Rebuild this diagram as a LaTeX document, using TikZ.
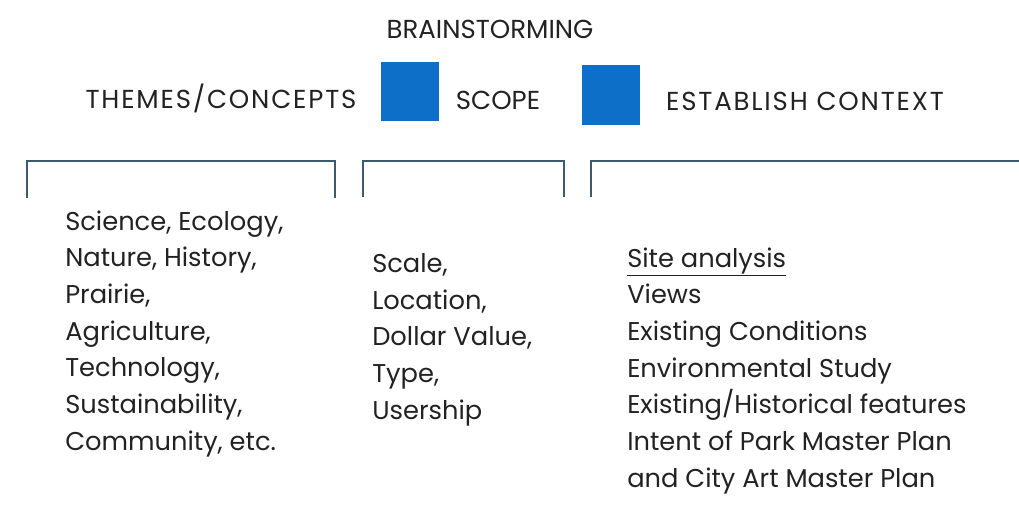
\documentclass[tikz,border=0pt]{standalone}
\usepackage{fontspec}
\setmainfont{Poppins}
\usetikzlibrary{positioning}

\definecolor{boxblue}{HTML}{0D6FC8}
\definecolor{rulegray}{HTML}{3F5A6B}
\definecolor{ink}{HTML}{222222}

\begin{document}
\begin{tikzpicture}[
        x=0.75pt, y=-0.75pt,
        every node/.style={text=ink, inner sep=0pt},
        heading/.style={font=\fontsize{19.5}{24}\selectfont, anchor=base},
        wideheading/.style={heading, font=\fontsize{19.5}{24}\selectfont\addfontfeature{LetterSpace=7}},
        itemlist/.style={font=\fontsize{19.3}{27.5}\selectfont, align=left, anchor=base west},
        bluebox/.style={fill=boxblue, minimum width=43.5pt, minimum height=44.5pt},
        bracket/.style={draw=rulegray, line width=1.5pt}
    ]
    \useasboundingbox (0,0) rectangle (1019,529);

    % Headings
    \node[heading] (brain) at (490,38) {BRAINSTORMING};
    \node[wideheading] (themes) at (221,108) {THEMES/CONCEPTS};
    \node[bluebox] (sq1) at (410,91.5) {};
    \node[heading] (scope) at (498,109) {SCOPE};
    \node[bluebox] (sq2) at (611,95) {};
    \node[wideheading] (context) at (805,110) {ESTABLISH CONTEXT};

    % Brackets
    \draw[bracket] (27,198) |- (335,161) -- (335,198);
    \draw[bracket] (363,197) |- (564,161) -- (564,197);
    \draw[bracket] (591,197) |- (1019,161);

    % Lists (anchored on the baseline of the last line)
    \node[itemlist] (themelist) at (65,450) {Science, Ecology,\\
        Nature, History,\\
        Prairie,\\
        Agriculture,\\
        Technology,\\
        Sustainability,\\
        Community, etc.};

    \node[itemlist] (scopelist) at (372,419) {Scale,\\
        Location,\\
        Dollar Value,\\
        Type,\\
        Usership};

    \node[itemlist] (contextlist) at (627,487) {\underline{Site analysis}\\
        Views\\
        Existing Conditions\\
        Environmental Study\\
        Existing/Historical features\\
        Intent of Park Master Plan\\
        and City Art Master Plan};

\end{tikzpicture}
\end{document}
